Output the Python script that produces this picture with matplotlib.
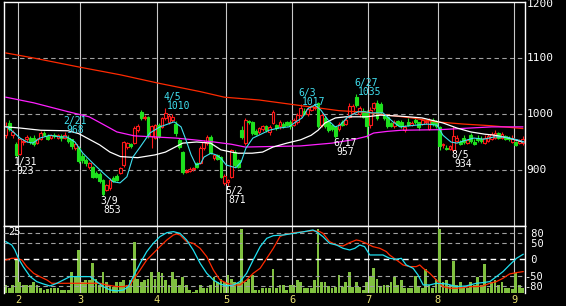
import matplotlib
matplotlib.use("Agg")
import matplotlib.pyplot as plt

plt.rcParams["font.family"] = "DejaVu Sans Mono"

# daily candles, one entry per trading day (2022-01-26 .. 2022-09-05)
opens = [962, 984, 962, 946, 928, 950, 955, 957, 958, 948,
         955, 966, 960, 957, 962, 958, 960, 958, 958, 955,
         940, 940, 925, 918, 905, 905, 895, 893, 882, 865,
         868, 886, 890, 895, 909, 941, 946, 948, 972, 1004,
         993, 995, 960, 958, 980, 977, 993, 985, 990, 982,
         954, 932, 896, 899, 901, 912, 912, 939, 948, 959,
         921, 926, 923, 876, 878, 887, 932, 918, 971, 948,
         988, 986, 970, 968, 973, 978, 968, 984, 980, 978,
         982, 985, 986, 980, 985, 998, 1006, 1000, 1008, 1010,
         1020, 980, 993, 985, 980, 976, 973, 985, 982, 995,
         1002, 1030, 1000, 1005, 1003, 980, 1010, 1020, 1018, 998,
         995, 984, 978, 987, 985, 972, 986, 980, 990, 985,
         982, 985, 974, 990, 988, 976, 945, 940, 938, 936,
         952, 950, 958, 948, 962, 950, 958, 956, 948, 952,
         955, 957, 966, 957, 960, 958, 950, 950, 948, 948]
highs = [985, 990, 972, 950, 958, 955, 962, 960, 962, 958,
         970, 970, 964, 964, 966, 964, 965, 968, 962, 956,
         950, 942, 930, 922, 914, 907, 898, 897, 884, 875,
         885, 889, 893, 905, 952, 950, 948, 978, 982, 1008,
         998, 997, 980, 982, 984, 995, 1010, 1000, 1000, 987,
         958, 934, 902, 905, 905, 914, 942, 953, 962, 962,
         928, 928, 925, 892, 884, 938, 936, 920, 978, 992,
         990, 988, 974, 977, 980, 980, 980, 1008, 982, 990,
         986, 988, 990, 992, 1002, 1017, 1010, 1012, 1016, 1016,
         1022, 1002, 996, 988, 982, 978, 985, 990, 995, 1020,
         1018, 1035, 1015, 1010, 1008, 1012, 1022, 1025, 1022, 1000,
         998, 986, 990, 990, 990, 980, 992, 987, 993, 986,
         993, 990, 992, 993, 990, 978, 948, 944, 945, 978,
         962, 953, 962, 956, 966, 955, 962, 960, 962, 965,
         968, 972, 968, 968, 962, 960, 962, 952, 955, 960]
lows = [958, 970, 958, 923, 926, 944, 950, 946, 943, 946,
        953, 960, 954, 955, 958, 955, 952, 955, 948, 938,
        936, 912, 912, 908, 902, 885, 885, 877, 853, 862,
        865, 878, 880, 893, 906, 938, 940, 946, 968, 990,
        990, 958, 940, 955, 957, 975, 990, 982, 985, 960,
        938, 893, 894, 896, 899, 903, 910, 936, 945, 928,
        918, 918, 885, 874, 871, 885, 905, 903, 955, 945,
        982, 962, 962, 965, 970, 968, 962, 982, 971, 974,
        975, 978, 974, 978, 983, 995, 998, 996, 1005, 1007,
        975, 976, 975, 968, 970, 957, 970, 978, 980, 993,
        1000, 1012, 995, 992, 958, 975, 1008, 990, 1000, 990,
        975, 976, 975, 978, 975, 968, 978, 978, 983, 972,
        980, 982, 972, 978, 975, 936, 940, 935, 936, 934,
        950, 944, 946, 946, 948, 944, 950, 948, 946, 950,
        953, 955, 955, 955, 953, 952, 948, 942, 946, 945]
closes = [978, 973, 968, 927, 955, 952, 959, 950, 946, 955,
          966, 963, 956, 962, 960, 962, 957, 963, 951, 942,
          946, 916, 918, 912, 912, 888, 888, 880, 858, 873,
          882, 880, 883, 904, 950, 948, 943, 975, 978, 993,
          995, 960, 978, 980, 960, 993, 1002, 996, 995, 966,
          941, 896, 899, 902, 903, 905, 939, 950, 959, 930,
          926, 920, 887, 890, 882, 936, 909, 905, 959, 989,
          985, 966, 965, 975, 978, 972, 976, 1004, 975, 986,
          978, 980, 978, 989, 998, 1011, 1000, 1009, 1014, 1013,
          978, 998, 978, 971, 973, 960, 982, 980, 990, 1015,
          1014, 1016, 1010, 995, 978, 1008, 1019, 993, 1003, 992,
          978, 978, 985, 980, 978, 976, 980, 984, 985, 976,
          990, 988, 990, 982, 978, 942, 946, 937, 942, 960,
          958, 946, 950, 954, 952, 946, 953, 951, 958, 960,
          964, 966, 958, 964, 955, 956, 958, 944, 952, 955]
volume = [3, 1.7, 3, 13.5, 4, 3, 3, 3, 4.2, 3,
          1.7, 1, 1.5, 1.7, 1.7, 1.7, 1, 1, 1, 8,
          6.2, 16.6, 4.2, 4.9, 4.9, 11.4, 5.5, 3, 8.2, 4.2,
          3, 2.3, 4.2, 4.2, 4.9, 3, 4.9, 19.9, 5.5, 4.2,
          4.9, 5.5, 8.2, 5.5, 8.2, 7.5, 4.9, 3, 8.2, 5.5,
          3, 6.2, 3, 1, 0.4, 1, 3, 1.7, 1.7, 3,
          6.2, 4.2, 5.5, 4.2, 6.9, 5.5, 4.2, 3.6, 25, 4.2,
          5.5, 6.9, 1, 1, 1.7, 1.7, 1.7, 9.2, 1.7, 3,
          3, 1, 3, 3, 4.9, 4, 1.7, 1.7, 1.7, 4.9,
          25, 4.2, 4.2, 2.6, 1.7, 2.3, 6.9, 2.3, 4.2, 8.2,
          2.3, 4.2, 2.3, 1, 4.2, 6.5, 9.5, 5.2, 2.3, 3,
          3, 4.2, 6, 3, 4.9, 1.7, 1.7, 1.7, 6.5, 2.6,
          1.7, 9.2, 3, 1.7, 5.5, 25, 4.2, 4.9, 3, 12.5,
          3, 4.2, 1.7, 1.7, 4.2, 3, 6.2, 3, 11.2, 1.7,
          4, 4.9, 3, 4.2, 1.7, 1.7, 1.5, 7.6, 3, 1.7]

# moving averages (trading-day position, price)
ma_short_x = [0.3, 2.1, 4.1, 6.1, 7.8, 9.8, 12.7, 15.6, 17.6, 19.9,
              22.2, 25.1, 28, 30.9, 32.9, 34.9, 36.6, 38.7, 41.5, 44.4,
              48.5, 50.5, 51.9, 53.4, 54.8, 56.2, 57.1, 59.1, 60.6, 62,
              63.5, 66.3, 67.8, 69.2, 71.2, 72.9, 75.9, 78.7, 81.6, 83.6,
              85.4, 87.1, 89.1, 90.8, 92.9, 94.9, 96.3, 98.6, 101.5, 103.5,
              105.3, 108.7, 111.6, 113.6, 116.5, 121.4, 124.3, 126, 128.3, 130,
              132, 134.9, 137.8, 140.7, 143.6, 147.4, 149.4]
ma_short = [977, 968, 957, 950, 948, 957, 962, 959, 959, 950,
            930, 912, 895, 879, 877, 888, 923, 941, 966, 977,
            986, 977, 954, 927, 909, 912, 923, 930, 927, 921,
            909, 904, 914, 939, 957, 962, 971, 975, 977, 986,
            993, 1010, 1016, 1007, 989, 977, 980, 995, 1004, 1004,
            1002, 1002, 986, 977, 979, 982, 980, 962, 950, 948,
            952, 957, 955, 959, 959, 954, 950]
ma_mid_x = [0, 4, 10, 18, 21, 24, 27, 30, 33, 38, 43, 46, 51, 55, 59, 62, 65, 67,
            71, 74, 77, 81, 85, 88, 90, 92, 95, 98, 104, 108, 114, 120, 126,
            130, 134, 138, 141, 145, 149]
ma_mid = [977, 975, 971, 970, 965, 955, 945, 932, 924, 922, 927, 932, 948, 950,
          948, 936, 932, 930, 930, 932, 941, 948, 954, 962, 971, 984, 993, 995,
          995, 998, 996, 993, 984, 975, 968, 964, 962, 957, 950]
ma_long_x = [0, 8, 18, 24, 27, 32, 37, 43, 49, 54, 60, 65, 69, 85, 94, 100, 104,
             106, 110, 114, 125, 134, 140, 149]
ma_long = [1030, 1020, 1004, 995, 985, 968, 961, 959, 957, 954, 950, 946, 941,
           943, 948, 954, 960, 966, 969, 971, 972, 975, 977, 977]
ma_200_x = [0, 8, 21, 33, 44, 56, 63, 73, 85, 96, 104, 110, 117, 124, 132, 140, 149]
ma_200 = [1109, 1100, 1084, 1070, 1055, 1040, 1030, 1025, 1015, 1006, 1003, 998,
          993, 986, 982, 979, 974]

# oscillator lines of the lower panel
osc_cyan_x = [0, 1.7, 2.6, 3.6, 5, 7, 8.9, 10.8, 12.7, 14.7,
              16.6, 18.5, 21.4, 24.3, 26.2, 28.1, 30, 32, 33.9, 35.3,
              36.7, 38.7, 40.6, 42.5, 44.4, 46.4, 48.3, 50.2, 52.1, 54,
              56, 57.9, 59.8, 61.7, 63.7, 65.6, 67.5, 69.4, 71.3, 73.3,
              75.2, 77.1, 80, 83, 86, 88.5, 89.5, 91.4, 93.3, 95.3,
              97.2, 99.1, 100.6, 102, 103.4, 104.9, 106.8, 108.7, 110.6, 112.6,
              114, 115.4, 117.4, 118.8, 120.3, 122.2, 124.1, 127, 129.9, 132.7,
              135.6, 137.5, 139.5, 141.4, 143.3, 145.2, 147.2, 149.1]
osc_cyan = [53, 43, 28, 3, -22, -52, -67, -74, -80, -72,
            -62, -52, -52, -52, -67, -82, -92, -95, -92, -82,
            -52, -12, 23, 48, 68, 80, 83, 78, 58, 28,
            -12, -42, -62, -74, -80, -77, -67, -42, -2, 38,
            63, 71, 73, 78, 83, 88, 83, 68, 48, 43,
            33, 28, 33, 43, 38, 13, 13, 13, 3, 0,
            3, -17, -27, -47, -77, -77, -72, -74, -82, -80,
            -72, -70, -67, -52, -37, -17, 3, 15]
osc_red_x = [0, 1.7, 3.1, 4.6, 6, 8, 9.8, 11.8, 13.2, 15.6,
             18.5, 21.4, 25.2, 27.1, 29, 32, 33.9, 35.8, 36.7, 38.7,
             40.6, 42.5, 44.4, 46.4, 48.3, 49.2, 50.2, 52.1, 54, 56,
             57.9, 59.8, 61.7, 63.7, 65.6, 67.5, 69.4, 71.3, 73.3, 75.2,
             77.1, 79, 80, 83, 86, 88.5, 90.5, 91.4, 93.3, 95.3,
             97.2, 99.1, 101, 102, 103.9, 105.8, 107.8, 109.7, 110.6, 112.6,
             114.5, 116.4, 118.3, 119.3, 120.3, 122.2, 124.1, 126, 128, 129.9,
             131.8, 133.7, 135.6, 137.5, 139.5, 141.4, 143.3, 145.2, 147.2, 149.1]
osc_red = [-2, 3, 3, -2, -22, -42, -52, -62, -72, -72,
           -72, -72, -72, -72, -77, -82, -82, -77, -62, -32,
           -2, 18, 38, 58, 73, 76, 73, 53, 48, 33,
           8, -32, -62, -72, -77, -77, -62, -42, -27, 3,
           33, 68, 73, 80, 83, 86, 83, 78, 53, 43,
           40, 50, 58, 56, 48, 38, 33, 23, 13, -2,
           -17, -22, -22, -17, -27, -42, -62, -82, -87, -87,
           -85, -82, -82, -80, -72, -67, -57, -44, -40, -37]

month_first = [4, 22, 44, 64, 83, 105, 125, 147]
month_labels = ["2", "3", "4", "5", "6", "7", "8", "9"]

price_ticks = [1200, 1100, 1000, 900]
osc_ticks = [80, 50, 0, -50, -80]
osc_tick_labels = [" 80", " 50", " 0", "-50", "-80"]

high_marks = [17, 46, 85, 101]
high_dates = ["2/21", "4/5", "6/3", "6/27"]
low_marks = [3, 28, 64, 95, 129]
low_dates = ["1/31", "3/9", "5/2", "6/17", "8/5"]

W, H = 566, 306
fig = plt.figure(figsize=(W / 100, H / 100), dpi=100, facecolor="black")


def px_axes(x0, y0, x1, y1):
    return fig.add_axes([x0 / W, 1 - y1 / H, (x1 - x0) / W, (y1 - y0) / H])


ax = px_axes(4, 2, 524.7, 226)
axv = px_axes(4, 226, 524.7, 292.6)
axo = axv.twinx()
xlim = (-0.54, 149.56)
days = list(range(len(closes)))
px = 0.72  # points per pixel

# ---- price panel
ax.set_facecolor("black")
ax.set_xlim(*xlim)
ax.set_ylim(800, 1200)
for p in (900, 1000, 1100):
    ax.axhline(p, color="#a0a0a0", lw=0.8, ls=(0, (4, 3)), zorder=1)
for m in month_first:
    ax.axvline(m - 0.5, color="#c8c8c8", lw=0.8, zorder=1)

up_col, down_col = "#ff1a1a", "#1ee01e"
for i in days:
    o, h, l, c = opens[i], highs[i], lows[i], closes[i]
    col = up_col if c >= o else down_col
    ax.vlines(i, l, h, color=col, lw=0.8, zorder=2)
    body = max(abs(c - o), 1.5)
    ax.bar(i, body, bottom=min(o, c), width=0.8,
           facecolor="black" if c >= o else down_col,
           edgecolor=col, linewidth=0.8, zorder=2.5)

ax.plot(ma_200_x, ma_200, color="#ff2a00", lw=0.9, zorder=3)
ax.plot(ma_long_x, ma_long, color="#ff20ff", lw=0.9, zorder=3)
ax.plot(ma_mid_x, ma_mid, color="white", lw=0.9, zorder=3)
ax.plot(ma_short_x, ma_short, color="#40e0f0", lw=0.8, zorder=3)

for i, d in zip(high_marks, high_dates):
    ax.annotate(d, (i, highs[i]), xytext=(-2 * px, 11 * px), textcoords="offset points",
                ha="left", va="center", color="#40e0f0", fontsize=7, zorder=5)
    ax.annotate(f"{highs[i]}", (i, highs[i]), xytext=(1.5 * px, 2 * px),
                textcoords="offset points", ha="left", va="center",
                color="#40e0f0", fontsize=7, zorder=5)
for i, d in zip(low_marks, low_dates):
    ax.annotate(d, (i, lows[i]), xytext=(-2.5 * px, -4.5 * px), textcoords="offset points",
                ha="left", va="center", color="white", fontsize=7, zorder=5)
    ax.annotate(f"{lows[i]}", (i, lows[i]), xytext=(0.5 * px, -13.5 * px),
                textcoords="offset points", ha="left", va="center",
                color="white", fontsize=7, zorder=5)

ax.set_xticks([])
ax.set_yticks([])
# right-hand price labels; the top one sits a little lower so it stays inside
for v in price_ticks:
    dy = -2.5 * px if v == 1200 else 0
    ax.annotate(str(v), (1, v), xycoords=ax.get_yaxis_transform(),
                xytext=(2 * px, dy), textcoords="offset points",
                ha="left", va="center", color="white", fontsize=8,
                annotation_clip=False)
for s in ax.spines.values():
    s.set_color("white")
    s.set_linewidth(1)

# ---- lower panel: volume + oscillators
axv.set_facecolor("black")
axv.set_xlim(*xlim)
axv.set_ylim(0, 26)
for m in month_first:
    axv.axvline(m - 0.5, color="#c8c8c8", lw=0.8, zorder=1)
axv.bar(days, volume, width=0.8, color="#80c040", zorder=2)
axv.text(4 / 520.7, 0.985, "25", transform=axv.transAxes, ha="left", va="top",
         color="white", fontsize=7.5, zorder=5)
axv.set_yticks([])
axv.set_xticks([m - 0.5 for m in month_first])
axv.set_xticklabels(month_labels)
axv.tick_params(axis="x", colors="#e8e070", length=0, pad=1.5, labelsize=7.5)
for s in axv.spines.values():
    s.set_color("white")
    s.set_linewidth(1)
axv.spines["bottom"].set_visible(False)

axo.set_xlim(*xlim)
axo.set_ylim(-100, 100)
for v in (80, 50, -50, -80):
    axo.axhline(v, color="#a0a0a0", lw=0.8, ls=(0, (4, 3)), zorder=1)
axo.axhline(0, color="white", lw=1, ls=(0, (4, 3)), zorder=1)
axo.plot(osc_red_x, osc_red, color="#ff2a00", lw=0.9, zorder=3)
axo.plot(osc_cyan_x, osc_cyan, color="#20e0f0", lw=0.9, zorder=3)
axo.set_yticks(osc_ticks)
axo.set_yticklabels(osc_tick_labels)
axo.tick_params(axis="y", colors="white", length=0, pad=0, labelsize=7.5)
for s in axo.spines.values():
    s.set_visible(False)

fig.savefig("out.png", dpi=100, facecolor="black")
